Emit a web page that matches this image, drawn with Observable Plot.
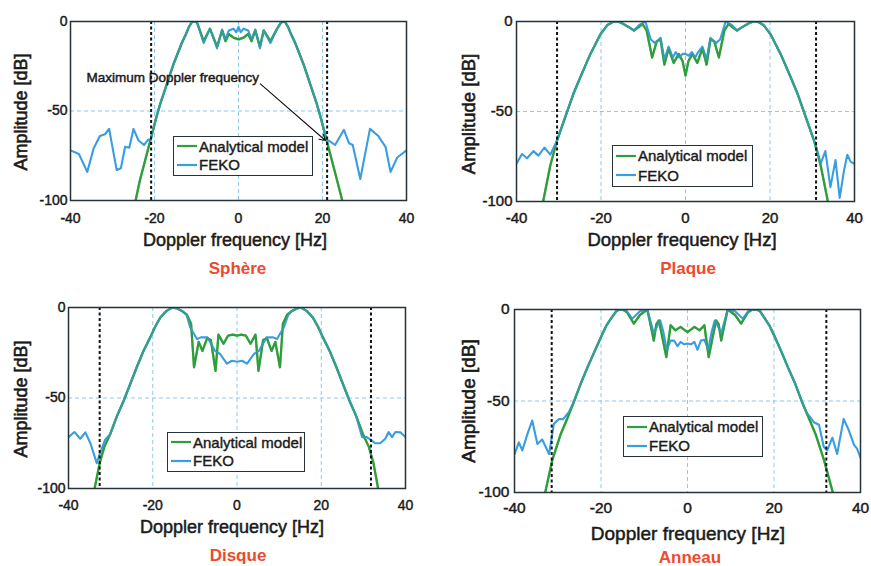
<!DOCTYPE html>
<html><head><meta charset="utf-8">
<script src="https://cdn.jsdelivr.net/npm/d3@7"></script>
<script src="https://cdn.jsdelivr.net/npm/@observablehq/plot@0.6"></script>
<style>
html,body{margin:0;padding:0;background:#fff;}
body{width:871px;height:566px;overflow:hidden;position:relative;font-family:Arial,"Liberation Sans",sans-serif;color:#1a1a1a;}
.panel{position:absolute;}
.panel svg text{stroke:#1a1a1a;stroke-width:0.45px;}
.lbl{position:absolute;transform:translate(-50%,-50%);white-space:nowrap;line-height:1;-webkit-text-stroke:0.5px #1a1a1a;}
.ylbl{position:absolute;transform:translate(-50%,-50%) rotate(-90deg);white-space:nowrap;line-height:1;-webkit-text-stroke:0.6px #1a1a1a;}
.ttl{position:absolute;transform:translate(-50%,-50%);white-space:nowrap;font-weight:bold;color:#ee4a2e;line-height:1;}
.legend{position:absolute;border:1.5px solid #263238;background:#fff;box-sizing:border-box;}
.legend .row{position:absolute;left:0;height:20px;display:flex;align-items:center;font-size:15px;-webkit-text-stroke:0.4px #1a1a1a;}
.legend svg{display:block;margin:0 2px 0 3px;}
</style></head><body>
<script>
// ---------- data ----------
const xTicks = [-40, -20, 0, 20, 40];
const yTicks = [-100, -50, 0];
const seriesNames = ["Analytical model", "FEKO"];
const panelTitles = ["Sphère", "Plaque", "Disque", "Anneau"];
const xTitle = "Doppler frequency [Hz]";
const yTitle = "Amplitude [dB]";
const noteText = "Maximum Doppler frequency";
const noteAt = [-36.2, -31.3];            // Hz, dB (Sphère panel)
const noteArrow = [5.2, -34.8, 20.7, -66.5]; // from Hz,dB -> to Hz,dB

// Sphère
const sphereModelHz = [-24.5,-23.5,-22.5,-21.5,-20.5,-19.5,-18.5,-17.5,-16.5,-15.5,-14.5,-13.5,-12.5,-11.8,-11,-10.2,-9.8,-8.3,-6.8,-5.1,-3.9,-3.1,-2.3,-1.2,0,1.2,2.3,3.1,4,5.1,6,7.6,9.2,10.2,11,11.8,12.5,13.5,14.5,15.5,16.5,17.5,18.5,19.5,20.5,21.5,22.5,23.5,24.7];
const sphereModelDb = [-100,-89,-80,-71,-62,-53,-45,-38,-31,-24,-18,-12,-7,-3,0,0,-1,-11,-4,-14,-5,-11,-7,-9,-10,-9,-7,-11,-5,-14,-5,-11,-4,-0.5,0,-3,-7,-12,-18,-24,-31,-38,-45,-53,-62,-71,-80,-89,-100];
const sphereFekoHz = [-40,-38,-36,-34.5,-33,-31.8,-30.8,-29,-28,-27,-26,-25,-23.8,-22.5,-21.5,-21,-20.5,-19.5,-18.5,-17.5,-16.5,-15.5,-14.5,-13.5,-12.5,-11.8,-11,-10.2,-9.8,-8.3,-6.8,-5.1,-3.9,-3.1,-2.3,-1.2,-0.5,0,0.5,1.2,2.3,3.1,4,5.1,6,7.6,9.2,10.2,11,11.8,12.5,13.5,14.5,15.5,16.5,17.5,18.5,19.5,20.5,21,21.5,23,25.1,26.3,27.2,29,31.3,33.3,35,36.2,37.8,40];
const sphereFekoDb = [-72,-74,-84,-71,-64,-63,-60,-83,-82,-70,-70.5,-60,-66.5,-69,-66,-66.5,-62,-53,-45,-38,-31,-24,-18,-12,-7,-3,0,0,-1,-12,-4,-15,-4.5,-10,-5,-4,-6,-3,-6,-4,-5,-10,-4.5,-15,-5,-12,-4,0,0,-3,-7,-12,-18,-24,-31,-38,-45,-53,-62,-66.5,-66.5,-69,-60.5,-68,-69,-88,-60,-64,-70,-84,-76,-72];
const sphereMaxDoppler = [-20.8, 21.1];

// Plaque
const plaqueModelHz = [-33.7,-32,-30.4,-28,-26.5,-24.9,-22.5,-20.1,-18.5,-17,-16,-15,-13.5,-12.2,-11,-10.2,-9.2,-7.9,-6.8,-5.9,-5,-4,-2.8,-1.6,-0.7,0,0.7,1.6,2.8,4,5,5.9,6.8,7.9,9.2,10.2,11,12.2,13.5,15,16,17,18.5,20.1,22.5,24.9,26.5,28,30.4,32,33.7];
const plaqueModelDb = [-100,-80,-66,-50,-40,-31,-18,-7,-2,0,0,-1,-3,-5,-3,-1.3,-5,-20,-11,-10,-24,-15,-23,-18,-22,-30,-22,-18,-23,-15,-24,-10,-11,-20,-5,-1.3,-3,-5,-3,-1,0,0,-2,-7,-18,-31,-40,-50,-66,-80,-100];
const plaqueFekoHz = [-40,-38.7,-37.5,-36,-34.8,-33.4,-32,-30.8,-30.4,-28,-26.5,-24.9,-22.5,-20.1,-18.5,-17,-16,-15,-13.5,-12.2,-11,-9.5,-8.2,-7.2,-5.9,-5,-4,-3,-2.3,-1.5,-0.7,0,0.7,1.5,2.3,3,4,5,5.9,7.2,8.2,9.5,11,12.2,13.5,15,16,17,18.5,20.1,22.5,24.9,26.5,28,30.4,31,32,33.1,34.3,35.5,36.5,37.5,38.3,39.1,40];
const plaqueFekoDb = [-79,-73.6,-76,-72,-74.5,-70,-74,-68,-66,-50,-40,-31,-18,-7,-2,0,0,-1,-3,-5,-2,0,-10,-12,-9,-21,-14,-20,-17,-20,-18,-18,-19,-17,-20,-17,-14,-21,-9,-12,-10,0,-2,-5,-3,-1,0,0,-2,-7,-18,-31,-40,-50,-66,-70,-79,-72,-92,-77,-98,-83,-74,-78,-79];
const plaqueMaxDoppler = [-30.4, 30.9];

// Disque
const disqueModelHz = [-33.8,-32.6,-31.5,-30.1,-28.5,-26.9,-25.3,-23.8,-22.2,-20.6,-19.4,-18.2,-16.8,-15.4,-14.2,-13,-11.9,-10.9,-10.2,-9.1,-8.2,-7.1,-6.2,-5.1,-4.4,-3.2,-2.1,-1,0,1,2.1,3.2,4.4,5.1,6.2,7.1,8.2,9.1,10.2,10.9,11.9,13,14.2,15.2,16.6,18,19.2,20.4,22,23.6,25.1,26.7,28.3,29.9,31.3,32.4,33.5];
const disqueModelDb = [-100,-86,-77,-70,-60,-51.5,-42,-33,-24,-16.5,-10.5,-5.5,-2,0,-0.5,-2,-4,-9,-33,-19,-24,-17,-18,-35,-15,-20,-15.5,-15,-15.5,-15,-15.5,-20,-15,-35,-18,-17,-24,-19,-33,-9,-4,-2,-0.5,0,-2,-5.5,-10.5,-16.5,-24,-33,-42,-51.5,-60,-70,-77,-86,-100];
const disqueFekoHz = [-40,-38.6,-37.2,-36,-34.8,-33.3,-32.6,-31.3,-30.1,-28.5,-26.9,-25.3,-23.8,-22.2,-20.6,-19.4,-18.2,-16.8,-15.4,-14.2,-13,-12,-11.1,-9.5,-8.6,-7,-5.2,-4,-3.2,-2.4,-1.2,0,1.2,2.4,3.2,4,5.2,7,8.6,9.5,11.1,12.2,13,14.2,15.2,16.6,18,19.2,20.4,22,23.6,25.1,26.7,28.3,29.7,30.8,31.7,32.8,34,35.2,36,36.8,37.6,38.8,40];
const disqueFekoDb = [-71.6,-68.8,-72.5,-69,-75,-86,-81,-73,-70,-60,-51.5,-42,-33,-24,-16.5,-10.5,-5.5,-2,0,-0.5,-2,-4,-11,-17.4,-16.5,-16.5,-24,-25.7,-28.4,-31,-29.4,-30,-29.4,-31,-28.4,-25.7,-24,-16.5,-16.5,-17.4,-11,-4,-2,-0.5,0,-2,-5.5,-10.5,-16.5,-24,-33,-42,-51.5,-60,-71.6,-71.6,-73,-75,-75,-72.5,-68.8,-71.6,-68.8,-69,-71.6];
const disqueMaxDoppler = [-32.6, 31.8];

// Anneau
const anneauModelHz = [-32.9,-31.3,-29.3,-27.7,-26.2,-24.6,-23.1,-21.5,-20,-18.8,-17.7,-16.5,-15.8,-15,-14,-12.4,-11,-9.3,-8.6,-7.8,-7.2,-6.6,-4.9,-3.9,-2.8,-1.6,-0.8,0,0.8,1.6,2.8,3.9,4.9,6.6,7.2,7.8,8.6,9.3,11,12.4,14,15,16,16.8,17.9,19,20.2,21.7,23.2,24.8,26.4,28,29.6,31.6,33.6];
const anneauModelDb = [-100,-82.6,-68,-59,-50,-40,-31.5,-23,-15,-9,-5,-1,0,0,-1.5,-7.7,-3,0,-7.7,-17,-8,-6,-26,-8.6,-11.4,-9.5,-11,-12.3,-11,-9.5,-11.4,-8.6,-26,-6,-8,-17,-7.7,0,-3,-7.7,-1.5,0,0,-1,-5,-9,-15,-23,-31.5,-40,-50,-59,-68,-82.6,-100];
const anneauFekoHz = [-40,-39,-38.2,-37,-35.9,-34.7,-33.6,-32,-30.9,-29.7,-28.8,-27.4,-26.2,-24.6,-23.1,-21.5,-20,-18.8,-17.7,-16.5,-15.8,-15,-14,-12.8,-11,-9.3,-8.6,-7.8,-7,-6.3,-5.6,-4.8,-3.9,-3.1,-2.3,-1.6,-0.8,0,0.8,1.6,2.3,3.1,3.9,4.8,5.6,6.3,7,7.8,8.6,9.3,11,12.8,14,15,16,16.8,17.9,19,20.2,21.7,23.2,24.8,26.4,27.4,28.4,29.2,30.4,31.5,32.3,33.5,34.6,36.1,37.3,38.5,39.2,40];
const anneauFekoDb = [-79,-72.6,-77,-68,-60.7,-73.5,-71,-79,-62.5,-59.8,-60,-56,-50,-40,-31.5,-23,-15,-9,-5,-1,0,0,-1,-5,-1,0,-6,-13,-9,-6,-12,-22,-17,-17,-20,-17.7,-19,-18.6,-19,-17.7,-22,-17,-16.5,-22,-12,-6,-9,-13,-6,0,-1,-5,-1,0,0,-1,-5,-9,-15,-23,-31.5,-40,-50,-56,-59,-61.6,-63,-75,-77,-70,-79,-59.8,-66,-74,-76,-81];
const anneauMaxDoppler = [-31.4, 32.1];

// ---------- styling / layout ----------
const GREEN = "#2f9e3c";
const BLUE = "#3a9de0";
const GRID = "#8ec9ec";
const FRAME = "#263238";

const panels = [
  {modelHz: sphereModelHz, modelDb: sphereModelDb, fekoHz: sphereFekoHz, fekoDb: sphereFekoDb, maxDoppler: sphereMaxDoppler, note: true,
   L: {left:0, top:0, w:420, h:260, ml:70, mr:14, mt:21, mb:60, fs:14, pad:13, ypad:3, yl:[21,112], xl:[235,240], xfs:18, tl:[237.5,268], lg:[173,136,140,40]}},
  {modelHz: plaqueModelHz, modelDb: plaqueModelDb, fekoHz: plaqueFekoHz, fekoDb: plaqueFekoDb, maxDoppler: plaqueMaxDoppler,
   L: {left:440, top:0, w:431, h:260, ml:76, mr:17, mt:21, mb:59, fs:15, pad:11, ypad:4, yl:[469,114], xl:[682,240], xfs:18.5, tl:[688,268], lg:[612,145,141,42]}},
  {modelHz: disqueModelHz, modelDb: disqueModelDb, fekoHz: disqueFekoHz, fekoDb: disqueFekoDb, maxDoppler: disqueMaxDoppler,
   L: {left:0, top:290, w:420, h:260, ml:68, mr:15, mt:17, mb:62, fs:14, pad:12, ypad:3, yl:[20.5,399], xl:[232,527], xfs:18, tl:[238,555], lg:[167,432,138,40]}},
  {modelHz: anneauModelHz, modelDb: anneauModelDb, fekoHz: anneauFekoHz, fekoDb: anneauFekoDb, maxDoppler: anneauMaxDoppler,
   L: {left:440, top:290, w:431, h:260, ml:74, mr:11, mt:19, mb:58, fs:15.5, pad:9, ypad:5, yl:[468,401], xl:[688,533], xfs:19, tl:[690,557], lg:[623,416,140,41]}}
];

const fmt = d => String(d);

panels.forEach((p, idx) => {
  const L = p.L;
  const model = p.modelHz.map((f, i) => ({f, a: p.modelDb[i]}));
  const feko = p.fekoHz.map((f, i) => ({f, a: p.fekoDb[i]}));
  const marks = [
    Plot.ruleX(xTicks.slice(1, -1), {stroke: GRID, strokeWidth: 1, strokeDasharray: "4,3"}),
    Plot.ruleY(yTicks.slice(1, -1), {stroke: GRID, strokeWidth: 1, strokeDasharray: "4,3"}),
    Plot.line(model, {x: "f", y: "a", stroke: GREEN, strokeWidth: 2.3, clip: true}),
    Plot.line(feko, {x: "f", y: "a", stroke: BLUE, strokeWidth: 2.1, clip: true}),
    Plot.line(model, {x: "f", y: "a", stroke: GREEN, strokeWidth: 2.2, strokeOpacity: 0.45, clip: true}),
    Plot.ruleX(p.maxDoppler, {stroke: "#111", strokeWidth: 2, strokeDasharray: "3,2.5"})
  ];
  if (p.note) {
    marks.push(Plot.text([noteText], {x: noteAt[0], y: noteAt[1], text: d => d, textAnchor: "start", fontSize: 13.5, fill: "#1a1a1a"}));
    marks.push(Plot.arrow([noteArrow], {x1: d => d[0], y1: d => d[1], x2: d => d[2], y2: d => d[3], stroke: "#111", strokeWidth: 1.1, headLength: 9}));
  }
  marks.push(Plot.frame({stroke: FRAME, strokeWidth: 1.5}));

  const svg = Plot.plot({
    width: L.w, height: L.h,
    marginLeft: L.ml, marginRight: L.mr, marginTop: L.mt, marginBottom: L.mb,
    x: {domain: [-40, 40], ticks: xTicks, tickSize: 0, tickPadding: L.pad, tickFormat: fmt, label: null},
    y: {domain: [-100, 0], ticks: yTicks, tickSize: 0, tickPadding: L.ypad, tickFormat: fmt, label: null},
    style: {fontFamily: 'Arial, "Liberation Sans", sans-serif', fontSize: L.fs + "px", color: "#1a1a1a", background: "transparent", overflow: "visible"},
    marks
  });
  const wrap = document.createElement("div");
  wrap.className = "panel";
  wrap.style.left = L.left + "px";
  wrap.style.top = L.top + "px";
  wrap.appendChild(svg);
  document.body.appendChild(wrap);

  const yl = document.createElement("div");
  yl.className = "ylbl"; yl.textContent = yTitle;
  yl.style.left = L.yl[0] + "px"; yl.style.top = L.yl[1] + "px"; yl.style.fontSize = L.xfs + "px";
  document.body.appendChild(yl);

  const xl = document.createElement("div");
  xl.className = "lbl"; xl.textContent = xTitle;
  xl.style.left = L.xl[0] + "px"; xl.style.top = L.xl[1] + "px"; xl.style.fontSize = L.xfs + "px";
  document.body.appendChild(xl);

  const tl = document.createElement("div");
  tl.className = "ttl"; tl.textContent = panelTitles[idx];
  tl.style.left = L.tl[0] + "px"; tl.style.top = L.tl[1] + "px"; tl.style.fontSize = "17px";
  document.body.appendChild(tl);

  const lg = document.createElement("div");
  lg.className = "legend";
  lg.style.left = L.lg[0] + "px"; lg.style.top = L.lg[1] + "px";
  lg.style.width = L.lg[2] + "px"; lg.style.height = L.lg[3] + "px";
  const rowH = (L.lg[3] - 3) / 2;
  seriesNames.forEach((name, i) => {
    const row = document.createElement("div");
    row.className = "row";
    row.style.top = (i * rowH) + "px";
    row.style.height = rowH + "px";
    const color = i === 0 ? GREEN : BLUE;
    row.innerHTML = `<svg width="20" height="4"><line x1="0" y1="2" x2="20" y2="2" stroke="${color}" stroke-width="2.2"/></svg><span>${name}</span>`;
    lg.appendChild(row);
  });
  document.body.appendChild(lg);
});
</script>
</body></html>
